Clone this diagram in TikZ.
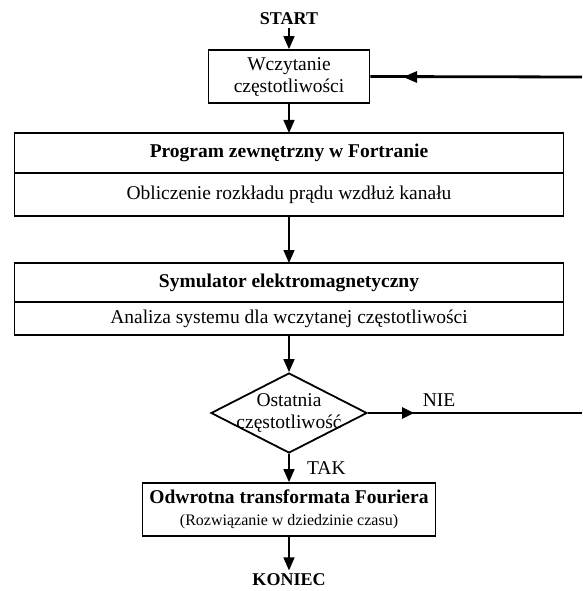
\documentclass[tikz,border=0pt]{standalone}
\usepackage{fontspec}
\setmainfont{Liberation Serif}
\usetikzlibrary{arrows.meta,positioning,shapes.geometric}

\begin{document}
\begin{tikzpicture}[x=1pt,y=-1pt,
  font=\fontsize{19.5}{22}\selectfont,
  blok/.style={draw,line width=1.8pt,minimum width=549pt,outer sep=0pt,inner sep=0pt},
  krok/.style={draw,line width=1.8pt,align=center,inner sep=0pt},
  decyzja/.style={draw,diamond,line width=1.8pt,minimum width=156pt,minimum height=80pt,inner sep=0pt},
  tytul/.style={font=\fontsize{19.5}{22}\selectfont\bfseries},
  strz/.style={line width=1.5pt,-{Triangle[width=11pt,length=13pt]}},
  powrot/.style={line width=2.8pt}]
\useasboundingbox (0,0) rectangle (582,591);

\node[font=\fontsize{18}{20}\selectfont\bfseries] (start) at (289,18.5) {START};
\node[krok,minimum width=161pt,minimum height=53pt] (wczyt) at (289,76.5) {Wczytanie\\częstotliwości};

\node[blok,tytul,minimum height=40pt] (fort) at (289,153) {Program zewnętrzny w Fortranie};
\node[blok,minimum height=43pt,below=0pt of fort] (fortb) {Obliczenie rozkładu prądu wzdłuż kanału};

\node[blok,tytul,minimum height=39pt] (sym) at (289,282.5) {Symulator elektromagnetyczny};
\node[blok,minimum height=33pt,below=0pt of sym] (symb) {Analiza systemu dla wczytanej częstotliwości};

\node[decyzja,label={[align=center]center:Ostatnia\\częstotliwość}] (dec) at (289,413) {};
\node (nie) at (439,400) {NIE};

\node[krok,minimum width=293pt,minimum height=53pt] (odw) at (289,509.5)
  {\textbf{Odwrotna transformata Fouriera}\\{\fontsize{16}{18}\selectfont(Rozwiązanie w dziedzinie czasu)}};
\node[font=\fontsize{18}{20}\selectfont\bfseries] (koniec) at (289,580) {KONIEC};

\coordinate (powR) at (582,77);
\coordinate (powG) at (403,77);
\coordinate (nieR) at (582,413);
\coordinate (nieG) at (414,413);

\draw[strz] (start) -- (wczyt);
\draw[strz] (wczyt.south) -- (fort.north);
\draw[strz] (fortb.south) -- (sym.north);
\draw[strz] (symb.south) -- (dec.north);
\draw[strz] (dec.south) -- node[right=14pt] (tak) {TAK} (odw.north);
\draw[strz] (odw.south) -- (koniec.north);

\draw[powrot] (powR) -- (wczyt.east);
\draw[powrot,-{Triangle[width=11pt,length=14pt]}] (powR) -- (powG);
\draw[powrot] (dec.east) -- (nieR);
\draw[powrot,-{Triangle[width=11pt,length=12pt]}] (dec.east) -- (nieG);
\end{tikzpicture}
\end{document}
